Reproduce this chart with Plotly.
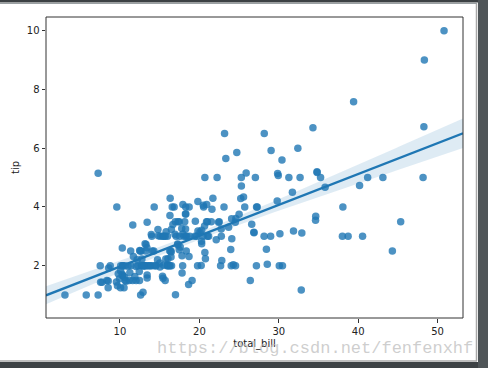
import numpy as np
import plotly.graph_objects as go

total_bill = [16.99,10.34,21.01,23.68,24.59,25.29,8.77,26.88,15.04,14.78,10.27,35.26,15.42,18.43,14.83,21.58,10.33,16.29,16.97,20.65,
17.92,20.29,15.77,39.42,19.82,17.81,13.37,12.69,21.7,19.65,9.55,18.35,15.06,20.69,17.78,24.06,16.31,16.93,18.69,31.27,
16.04,17.46,13.94,9.68,30.4,18.29,22.23,32.4,28.55,18.04,12.54,10.29,34.81,9.94,25.56,19.49,38.01,26.41,11.24,48.27,
20.29,13.81,11.02,18.29,17.59,20.08,16.45,3.07,20.23,15.01,12.02,17.07,26.86,25.28,14.73,10.51,17.92,27.2,22.76,17.29,
19.44,16.66,10.07,32.68,15.98,34.83,13.03,18.28,24.71,21.16,28.97,22.49,5.75,16.32,22.75,40.17,27.28,12.03,21.01,12.46,
11.35,15.38,44.3,22.42,20.92,15.36,20.49,25.21,18.24,14.31,14.0,7.25,38.07,23.95,25.71,17.31,29.93,10.65,12.43,24.08,
11.69,13.42,14.26,15.95,12.48,29.8,8.52,14.52,11.38,22.82,19.08,20.27,11.17,12.26,18.26,8.51,10.33,14.15,16.0,13.16,
17.47,34.3,41.19,27.05,16.43,8.35,18.64,11.87,9.78,7.51,14.07,13.13,17.26,24.55,19.77,29.85,48.17,25.0,13.39,16.49,
21.5,12.66,16.21,13.81,17.51,24.52,20.76,31.71,10.59,10.63,50.81,15.81,7.25,31.85,16.82,32.9,17.89,14.48,9.6,34.63,
34.65,23.33,45.35,23.17,40.55,20.69,20.9,30.46,18.15,23.1,15.69,19.81,28.44,15.48,16.58,7.56,10.34,43.11,13.0,13.51,
18.71,12.74,13.0,16.4,20.53,16.47,26.59,38.73,24.27,12.76,30.06,25.89,48.33,13.27,28.17,12.9,28.15,11.59,7.74,30.14,
12.16,13.42,8.58,15.98,13.42,16.27,10.09,20.45,13.28,22.12,24.01,15.69,11.61,10.77,15.53,10.07,12.6,32.83,35.83,29.03,
27.18,22.67,17.82,18.78]
tip = [1.01,1.66,3.5,3.31,3.61,4.71,2.0,3.12,1.96,3.23,1.71,5.0,1.57,3.0,3.02,3.92,1.67,3.71,3.5,3.35,
4.08,2.75,2.23,7.58,3.18,2.34,2.0,2.0,4.3,3.0,1.45,2.5,3.0,2.45,3.27,3.6,2.0,3.07,2.31,5.0,
2.24,2.54,3.06,1.32,5.6,3.0,5.0,6.0,2.05,3.0,2.5,2.6,5.2,1.56,4.34,3.51,3.0,1.5,1.76,6.73,
3.21,2.0,1.98,3.76,2.64,3.15,2.47,1.0,2.01,2.09,1.97,3.0,3.14,5.0,2.2,1.25,3.08,4.0,3.0,2.71,
3.0,3.4,1.83,5.0,2.03,5.17,2.0,4.0,5.85,3.0,3.0,3.5,1.0,4.3,3.25,4.73,4.0,1.5,3.0,1.5,
2.5,3.0,2.5,3.48,4.08,1.64,4.06,4.29,3.76,4.0,3.0,1.0,4.0,2.55,4.0,3.5,5.07,1.5,1.8,2.92,
2.31,1.68,2.5,2.0,2.52,4.2,1.48,2.0,2.0,2.18,1.5,2.83,1.5,2.0,3.25,1.25,2.0,2.0,2.0,2.75,
3.5,6.7,5.0,5.0,2.3,1.5,1.36,1.63,1.73,2.0,2.5,2.0,2.74,2.0,2.0,5.14,5.0,3.75,2.61,2.0,
3.5,2.5,2.0,2.0,3.0,3.48,2.24,4.5,1.61,2.0,10.0,3.16,5.15,3.18,4.0,3.11,2.0,2.0,4.0,3.55,
3.68,5.65,3.5,6.5,3.0,5.0,3.5,2.0,3.5,4.0,1.5,4.19,2.56,2.02,4.0,1.44,2.0,5.0,2.0,2.0,
4.0,2.01,2.0,2.5,4.0,3.23,3.41,3.0,2.03,2.23,2.0,5.16,9.0,2.5,6.5,1.1,3.0,1.5,1.44,3.09,
2.2,3.48,1.92,3.0,1.58,2.5,2.0,3.0,2.72,2.88,2.0,3.0,3.39,1.47,3.0,1.25,1.0,1.17,4.67,5.92,
2.0,2.0,1.75,3.0]
x_ticks = [10, 20, 30, 40, 50]
y_ticks = [2, 4, 6, 8, 10]

x = np.array(total_bill)
y = np.array(tip)
n = len(x)
# axis limits like matplotlib (5% margins)
xr = x.max() - x.min()
xmin, xmax = x.min() - 0.05 * xr, x.max() + 0.05 * xr
grid = np.linspace(xmin, xmax, 100)
b, a = np.polyfit(x, y, 1)
yhat = a + b * grid
res = y - (a + b * x)
s = np.sqrt(np.sum(res ** 2) / (n - 2))
sxx = np.sum((x - x.mean()) ** 2)
se = s * np.sqrt(1.0 / n + (grid - x.mean()) ** 2 / sxx)
lo = yhat - 1.97 * se
hi = yhat + 1.97 * se
ylo = min(y.min(), lo.min())
yhi = max(y.max(), hi.max())
yr = yhi - ylo
ymin, ymax = ylo - 0.05 * yr, yhi + 0.05 * yr

blue = "#1f77b4"
fig = go.Figure()
fig.add_trace(go.Scatter(x=grid, y=lo, mode="lines", line=dict(width=0), showlegend=False, hoverinfo="skip"))
fig.add_trace(go.Scatter(x=grid, y=hi, mode="lines", line=dict(width=0), fill="tonexty",
                         fillcolor="rgba(31,119,180,0.15)", showlegend=False, hoverinfo="skip"))
fig.add_trace(go.Scatter(x=x, y=y, mode="markers",
                         marker=dict(color=blue, size=7.5, opacity=0.8, line=dict(width=0)), showlegend=False))
fig.add_trace(go.Scatter(x=grid, y=yhat, mode="lines", line=dict(color=blue, width=2.3), showlegend=False))

W, H = 488, 368
L, R, T, B = 46, 25, 17, 50
pw, ph = W - L - R, H - T - B
def px(xp): return (xp - L) / pw
def py(yp): return (H - B - yp) / ph

shapes = [
    # dark window frame
    dict(type="rect", xref="paper", yref="paper", x0=px(-5), x1=px(W + 5), y0=py(2.5), y1=py(-5),
         fillcolor="#3b4043", line=dict(width=0), layer="above"),
    dict(type="rect", xref="paper", yref="paper", x0=px(478), x1=px(W + 5), y0=py(H + 5), y1=py(-5),
         fillcolor="#4f5558", line=dict(width=0), layer="above"),
    dict(type="rect", xref="paper", yref="paper", x0=px(-5), x1=px(478), y0=py(H + 5), y1=py(362),
         fillcolor="#3d4245", line=dict(width=0), layer="above"),
    dict(type="line", xref="paper", yref="paper", x0=px(476.5), x1=px(476.5), y0=py(361), y1=py(3),
         line=dict(color="#a8a8a8", width=1.5), layer="above"),
    dict(type="line", xref="paper", yref="paper", x0=px(0), x1=px(477), y0=py(361), y1=py(361),
         line=dict(color="#a8a8a8", width=1.5), layer="above"),
    dict(type="line", xref="paper", yref="paper", x0=px(0), x1=px(477), y0=py(3.5), y1=py(3.5),
         line=dict(color="#9aa0a3", width=1), layer="above"),
    # axes box
    dict(type="rect", xref="paper", yref="paper", x0=0, x1=1, y0=0, y1=1,
         line=dict(color="#333333", width=1), layer="above"),
]

fig.update_layout(
    width=W, height=H, margin=dict(l=L, r=R, t=T, b=B, autoexpand=False),
    paper_bgcolor="white", plot_bgcolor="white",
    font=dict(family="DejaVu Sans", size=10, color="#222222"),
    shapes=shapes,
    xaxis=dict(range=[xmin, xmax], tickvals=x_ticks, ticks="outside", ticklen=3.5, tickcolor="#333333",
               showgrid=False, zeroline=False, showline=False, automargin=False,
               title=dict(text="total_bill", font=dict(size=10), standoff=4)),
    yaxis=dict(range=[ymin, ymax], tickvals=y_ticks, ticks="outside", ticklen=3.5, tickcolor="#333333",
               showgrid=False, zeroline=False, showline=False, automargin=False,
               title=dict(text="tip", font=dict(size=10), standoff=5)),
    annotations=[dict(text="https://blog.csdn.net/fenfenxhf", xref="paper", yref="paper",
                      x=px(475), y=py(348), xanchor="right", yanchor="middle", showarrow=False,
                      font=dict(family="Liberation Mono", size=17, color="rgba(190,190,190,0.75)"))],
)
fig.write_html("out.html", config={"displayModeBar": False},
               post_script="document.body.style.margin='0';document.body.style.overflow='hidden';")
